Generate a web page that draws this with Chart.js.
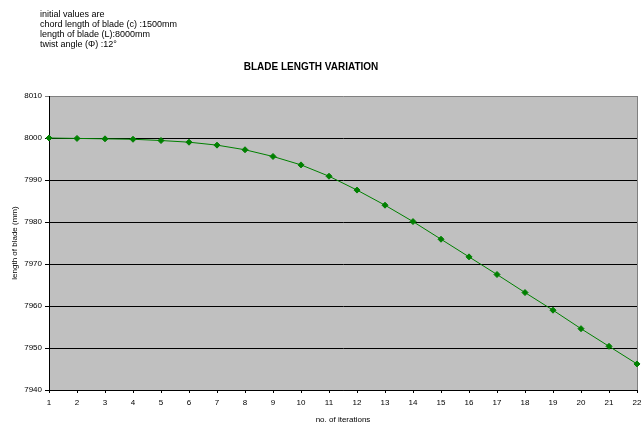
<!DOCTYPE html>
<html>
<head>
<meta charset="utf-8">
<script src="https://cdn.jsdelivr.net/npm/chart.js@4/dist/chart.umd.min.js"></script>
<style>
  body { margin: 0; background: #fff; }
  #wrap { position: relative; width: 642px; height: 424px; }
  #note { position: absolute; left: 40px; top: 9px; font: 9px "Liberation Sans", Arial, sans-serif; line-height: 10px; color: #000; }
</style>
</head>
<body>
<div id="wrap">
  <div id="note">initial values are<br>chord length of blade (c) :1500mm<br>length of blade (L):8000mm<br>twist angle (&Phi;) :12&deg;</div>
  <canvas id="grafico" width="642" height="424"></canvas>
</div>
<script>
// iteracoes (eixo x)
const iterations = ["1","2","3","4","5","6","7","8","9","10","11","12","13","14","15","16","17","18","19","20","21","22"];
// comprimento da pa em mm
const bladeLength = [8000, 7999.9, 7999.8, 7999.7, 7999.4, 7999.0, 7998.3, 7997.2, 7995.6, 7993.6, 7990.9,
                     7987.6, 7984.0, 7980.1, 7975.9, 7971.7, 7967.5, 7963.2, 7959.0, 7954.6, 7950.4, 7946.2];
const yMin = 7940, yMax = 8010, yStep = 10;

const fonte = "'Liberation Sans', Arial, sans-serif";

// fundo cinza e bordas do grafico
const plotBg = {
  id: "plotBg",
  beforeDraw(chart) {
    const { ctx, chartArea: a } = chart;
    ctx.save();
    ctx.fillStyle = "#c0c0c0";
    ctx.fillRect(a.left, a.top, a.right - a.left, a.bottom - a.top);
    ctx.strokeStyle = "#808080";
    ctx.lineWidth = 1;
    ctx.beginPath();
    ctx.moveTo(a.right + 0.5, a.top);
    ctx.lineTo(a.right + 0.5, a.bottom);
    ctx.stroke();
    ctx.restore();
  },
  afterDraw(chart) {
    const { ctx } = chart;
    ctx.save();
    ctx.font = "bold 10px " + fonte;
    ctx.fillStyle = "#000";
    ctx.textAlign = "center";
    ctx.textBaseline = "middle";
    ctx.fillText("BLADE LENGTH VARIATION", 311, 67);
    ctx.restore();
  }
};

const config = {
  type: "line",
  data: {
    labels: iterations,
    datasets: [{
      label: "length of blade",
      data: bladeLength,
      borderColor: "#008000",
      backgroundColor: "#008000",
      borderWidth: 1,
      pointStyle: "rectRot",
      pointRadius: 3,
      pointHoverRadius: 3,
      tension: 0
    }]
  },
  options: {
    responsive: false,
    animation: false,
    layout: { padding: { top: 96, right: 5, left: 0, bottom: 0 } },
    plugins: { legend: { display: false }, tooltip: { enabled: false } },
    scales: {
      x: {
        offset: false,
        grid: { display: true, drawOnChartArea: false, color: "#000", tickLength: 3 },
        border: { color: "#000", width: 1 },
        ticks: { color: "#000", font: { family: fonte, size: 8 }, padding: 5, maxRotation: 0, autoSkip: false },
        title: { display: true, text: "no. of iterations", color: "#000", font: { family: fonte, size: 8 }, padding: { top: 0, bottom: -1 } },
        afterFit(s) { s.height = 34; s.paddingLeft = 0; s.paddingRight = 0; }
      },
      y: {
        min: yMin,
        max: yMax,
        grid: {
          color: (c) => c.tick && c.tick.value === yMax ? "#808080" : "#000",
          tickLength: 4
        },
        border: { color: "#000", width: 1 },
        ticks: { stepSize: yStep, color: "#000", font: { family: fonte, size: 8 }, padding: 3, callback: (v) => String(v) },
        title: { display: true, text: "length of blade (mm)", color: "#000", font: { family: fonte, size: 8 }, padding: { top: 10, bottom: 0 } },
        afterFit(s) { s.width = 49; s.paddingTop = 0; s.paddingBottom = 0; }
      }
    }
  },
  plugins: [plotBg]
};

var grafico = new Chart(document.getElementById("grafico"), config);
</script>
</body>
</html>
